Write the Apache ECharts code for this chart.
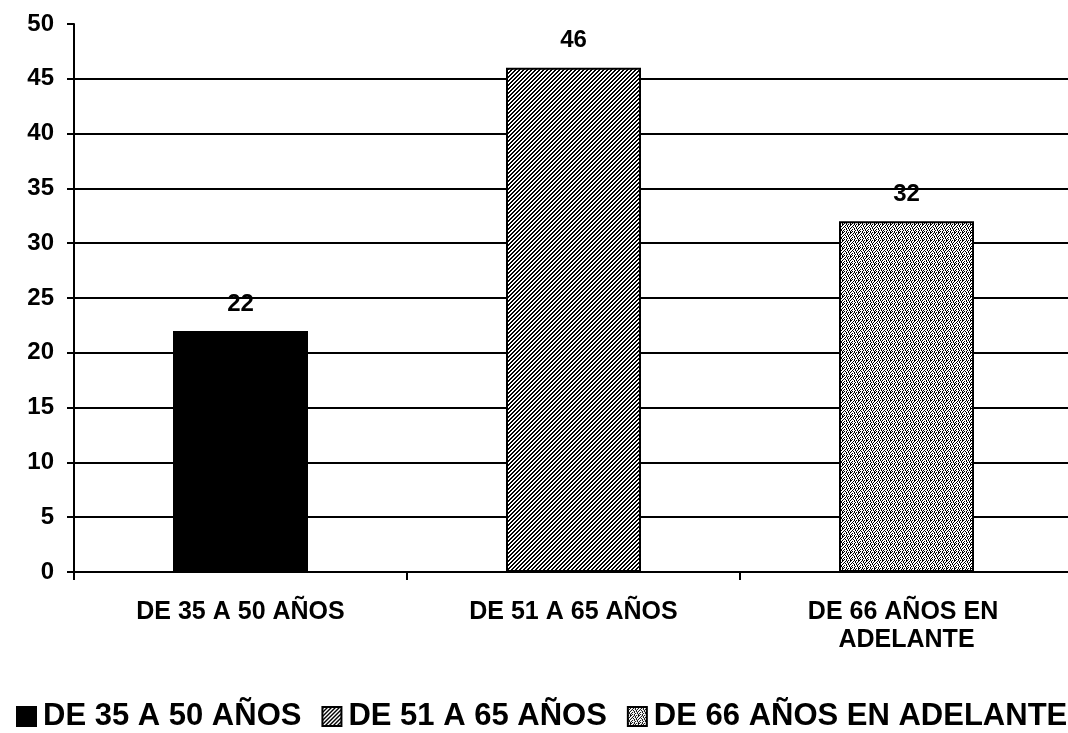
<!DOCTYPE html>
<html>
<head>
<meta charset="utf-8">
<script src="https://cdn.jsdelivr.net/npm/echarts@6/dist/echarts.min.js"></script>
<style>html,body{margin:0;padding:0;background:#fff}#c{width:1068px;height:733px}</style>
</head>
<body>
<div id="c"></div>
<script>
const categories = ['DE 35 A 50 AÑOS', 'DE 51 A 65 AÑOS', 'DE 66 AÑOS EN ADELANTE'];
const values = [22, 46, 32];
const yTicks = [0, 5, 10, 15, 20, 25, 30, 35, 40, 45, 50];

function makePattern(size, fn) {
  const c = document.createElement('canvas');
  c.width = size; c.height = size;
  const ctx = c.getContext('2d');
  ctx.fillStyle = '#fff'; ctx.fillRect(0, 0, size, size);
  ctx.fillStyle = '#000';
  for (let y = 0; y < size; y++) for (let x = 0; x < size; x++) if (fn(x, y)) ctx.fillRect(x, y, 1, 1);
  return c;
}
const diag = makePattern(4, (x, y) => (x + y) % 4 < 2);
const dotRows = [
  '10110010',
  '00100101',
  '01001001',
  '10010100',
  '10100010',
  '01001010',
  '01010001',
  '00101010'
];
const dots = makePattern(8, (x, y) => dotRows[y][x] === '1');
const fills = ['#000', { image: diag, repeat: 'repeat' }, { image: dots, repeat: 'repeat' }];

const font = "'Liberation Sans', Arial, sans-serif";
const series = categories.map((name, i) => ({
  name: name,
  type: 'bar',
  barWidth: 135,
  barGap: '-100%',
  data: values.map((v, j) => (j === i ? v : '-')),
  itemStyle: { color: fills[i], borderColor: '#000', borderWidth: 2 },
  label: { show: true, position: 'top', distance: 15, color: '#000', fontFamily: font, fontWeight: 'bold', fontSize: 24 }
}));

const chart = echarts.init(document.getElementById('c'));
chart.setOption({
  animation: false,
  backgroundColor: '#fff',
  grid: { left: 74, width: 999, top: 24, bottom: 161, outerBoundsMode: 'none' },
  legend: {
    left: 11, top: 696, width: 1400, orient: 'horizontal',
    icon: 'rect', itemWidth: 19, itemHeight: 19, itemGap: 20,
    textStyle: { color: '#000', fontFamily: font, fontWeight: 'bold', fontSize: 31, padding: [0, 0, 0, 2] },
    data: categories
  },
  xAxis: {
    type: 'category', data: categories,
    axisLine: { lineStyle: { color: '#000', width: 2 } },
    axisTick: { show: true, interval: 0, length: 8, lineStyle: { color: '#000', width: 2 } },
    axisLabel: { interval: 0, margin: 26, color: '#000', fontFamily: font, fontWeight: 'bold', fontSize: 25, lineHeight: 28, width: 250, overflow: 'break' }
  },
  yAxis: {
    type: 'value', min: yTicks[0], max: yTicks[yTicks.length - 1], interval: yTicks[1] - yTicks[0],
    axisLine: { show: true, lineStyle: { color: '#000', width: 2 } },
    axisTick: { show: true, length: 7, lineStyle: { color: '#000', width: 2 } },
    axisLabel: { margin: 20, color: '#000', fontFamily: font, fontWeight: 'bold', fontSize: 24 },
    splitLine: { show: true, showMinLine: false, showMaxLine: false, lineStyle: { color: '#000', width: 2 } }
  },
  series: series
});
</script>
</body>
</html>
